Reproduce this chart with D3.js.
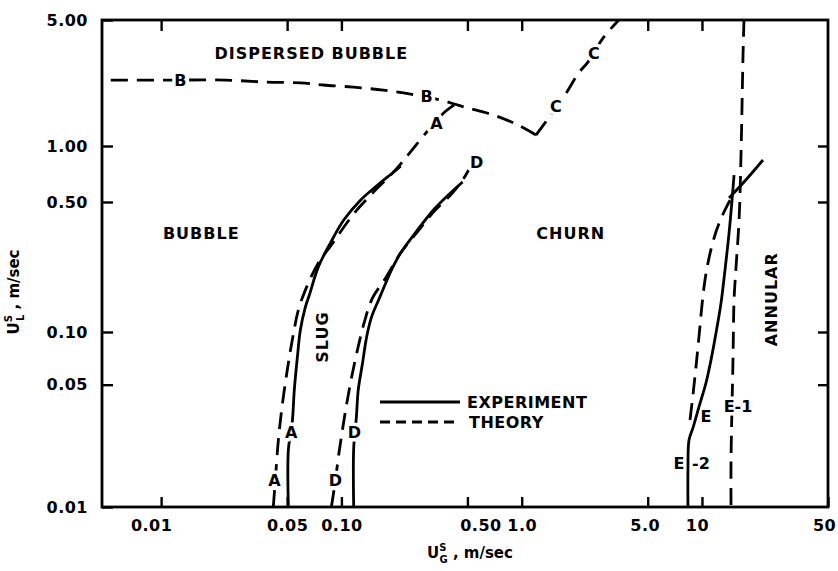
<!DOCTYPE html>
<meta charset="utf-8">
<style>
body { margin: 0; background: #fff; }
svg { font-family: "DejaVu Sans", sans-serif; font-weight: bold; }
.frame { fill: none; stroke: #000; stroke-width: 2.8px; }
.axis line { stroke: #000; stroke-width: 2.4px; }
.axis text { font-family: "DejaVu Sans", sans-serif; font-weight: bold; font-size: 16px; letter-spacing: 0.5px; fill: #000; }
.exp { fill: none; stroke: #000; stroke-width: 2.8px; }
.theory { fill: none; stroke: #000; stroke-width: 2.8px; stroke-dasharray: 17,9; }
.lbl { font-size: 16px; text-anchor: middle; dominant-baseline: central; }
.halo { stroke: #fff; stroke-width: 7px; paint-order: stroke; stroke-linejoin: round; }
.region { font-size: 16px; letter-spacing: 1px; text-anchor: middle; dominant-baseline: central; }
.axlabel { font-size: 15px; }
.legend { font-size: 16px; letter-spacing: 0.5px; dominant-baseline: central; }
</style>
<body>
<script src="https://d3js.org/d3.v7.min.js"></script>
<script>

var width = 838, height = 571;

// tick values and labels
var xTicks = [0.01, 0.05, 0.1, 0.5, 1, 5, 10, 50];
var xTickLabels = ["0.01", "0.05", "0.10", "0.50", "1.0", "5.0", "10", "50"];
var yTicks = [0.01, 0.05, 0.1, 0.5, 1, 5];
var yTickLabels = ["0.01", "0.05", "0.10", "0.50", "1.00", "5.00"];

// transition boundaries, U_G^S (m/sec) and U_L^S (m/sec)
var bTheoryG = [0.0047, 0.0112, 0.0227, 0.0388, 0.0592, 0.0794, 0.117, 0.171, 0.242, 0.355, 0.476, 0.69, 0.95, 1.2];
var bTheoryL = [2.32, 2.32, 2.32, 2.26, 2.24, 2.18, 2.12, 2.04, 1.94, 1.80, 1.65, 1.49, 1.31, 1.15];

var cTheoryG = [1.2, 1.36, 1.71, 2.07, 2.33, 2.85, 3.46];
var cTheoryL = [1.15, 1.36, 1.87, 2.54, 2.92, 4.02, 5.0];

var aExpG = [0.0508, 0.0508, 0.0534, 0.0548, 0.057, 0.0592, 0.0631, 0.0664, 0.0745, 0.0869, 0.103, 0.128, 0.159, 0.195, 0.213];
var aExpL = [0.01, 0.0212, 0.0306, 0.0467, 0.072, 0.1025, 0.136, 0.158, 0.224, 0.301, 0.40, 0.513, 0.617, 0.725, 0.78];

var aTheoryG = [0.0419, 0.043, 0.0447, 0.047, 0.0501, 0.0534, 0.0577, 0.0631, 0.0745, 0.088, 0.118, 0.1545, 0.1995, 0.2417, 0.304, 0.369, 0.43];
var aTheoryL = [0.01, 0.01426, 0.0241, 0.0383, 0.0607, 0.090, 0.131, 0.168, 0.235, 0.294, 0.436, 0.58, 0.743, 0.929, 1.227, 1.524, 1.71];

var dExpG = [0.117, 0.117, 0.121, 0.124, 0.131, 0.138, 0.147, 0.161, 0.176, 0.192, 0.213, 0.264, 0.324, 0.403, 0.47];
var dExpL = [0.01, 0.0217, 0.0323, 0.0467, 0.0665, 0.0936, 0.1205, 0.149, 0.183, 0.221, 0.266, 0.353, 0.453, 0.559, 0.64];

var dTheoryG = [0.088, 0.0927, 0.0962, 0.1013, 0.1067, 0.1137, 0.1227, 0.134, 0.1486, 0.176, 0.213, 0.264, 0.324, 0.403, 0.47, 0.508];
var dTheoryL = [0.01, 0.01426, 0.0193, 0.0275, 0.0383, 0.0546, 0.0789, 0.113, 0.152, 0.195, 0.266, 0.345, 0.442, 0.545, 0.656, 0.743];

var eExpG = [8.36, 8.36, 8.47, 8.91, 9.62, 10.52, 11.22, 11.96, 12.75, 13.42, 14.13, 14.68, 15.06];
var eExpL = [0.01, 0.0163, 0.0241, 0.0283, 0.0373, 0.0511, 0.0692, 0.0987, 0.143, 0.216, 0.34, 0.513, 0.698];

var eTheoryG = [8.58, 8.91, 9.26, 9.62, 10.0, 10.39, 10.94, 11.66, 12.59, 13.77, 15.06];
var eTheoryL = [0.0314, 0.0436, 0.0631, 0.0936, 0.1397, 0.1905, 0.250, 0.320, 0.395, 0.476, 0.559];

var annExpG = [14.13, 17.5, 21.8];
var annExpL = [0.525, 0.656, 0.841];

var e1TheoryG = [17.1, 16.9, 16.47, 16.06, 15.45, 15.06, 14.86, 14.49, 14.49];
var e1TheoryL = [5.0, 3.28, 0.917, 0.40, 0.224, 0.1486, 0.0692, 0.0186, 0.01];

// letters written on the curves
var curveLabels = ["B", "B", "A", "A", "A", "D", "D", "D", "C", "C", "E-1"];
var curveLabelG = [0.0128, 0.297, 0.337, 0.0527, 0.0425, 0.118, 0.0927, 0.562, 1.545, 2.51, 15.85];
var curveLabelL = [2.32, 1.87, 1.34, 0.0265, 0.01426, 0.0265, 0.01426, 0.82, 1.65, 3.28, 0.0373];
var plainLabels = ["E", "E", "-2"];
var plainLabelG = [10.52, 7.45, 9.87];
var plainLabelL = [0.0327, 0.0178, 0.0178];

var regionNames = ["DISPERSED BUBBLE", "BUBBLE", "CHURN", "SLUG", "ANNULAR"];
var regionG = [0.0681, 0.0167, 1.87, 0.0784, 24.2];
var regionL = [3.28, 0.34, 0.34, 0.0936, 0.150];
var regionRotate = [0, 0, 0, -90, -90];

var x = d3.scaleLog().domain([0.0047, 50]).range([102, 828]);
// the hand drawn decades are not quite equal, so the y scale is piecewise
var y = d3.scaleLog().domain([0.01, 0.1, 1, 5]).range([507, 332, 146, 20]);

var svg = d3.select("body").append("svg")
    .attr("width", width)
    .attr("height", height);

var line = d3.line()
    .x(function(d) { return x(d[0]); })
    .y(function(d) { return y(d[1]); })
    .curve(d3.curveCatmullRom.alpha(0.5));

function curve(pts, cls) {
  svg.append("path")
      .datum(pts)
      .attr("class", cls)
      .attr("d", line);
}

// B is drawn from the B/C corner outwards so both dash patterns start at the corner
curve(d3.zip(bTheoryG, bTheoryL).reverse(), "theory");
curve(d3.zip(cTheoryG, cTheoryL), "theory");
curve(d3.zip(aTheoryG, aTheoryL), "theory");
curve(d3.zip(aExpG, aExpL), "exp");
curve(d3.zip(dTheoryG, dTheoryL), "theory");
curve(d3.zip(dExpG, dExpL), "exp");
curve(d3.zip(eTheoryG, eTheoryL), "theory");
curve(d3.zip(eExpG, eExpL), "exp");
curve(d3.zip(annExpG, annExpL), "exp");
curve(d3.zip(e1TheoryG, e1TheoryL), "theory");

// frame and inward ticks
svg.append("rect")
    .attr("class", "frame")
    .attr("x", x.range()[0])
    .attr("y", y(5))
    .attr("width", x.range()[1] - x.range()[0])
    .attr("height", y(0.01) - y(5));

var xShift = [-10, 0, 0, 13, 0, -3, -5, -4];

svg.append("g")
    .attr("class", "axis")
    .attr("transform", "translate(0," + y(0.01) + ")")
    .call(d3.axisBottom(x).tickValues(xTicks).tickSize(-10).tickPadding(13)
      .tickFormat(function(d, i) { return xTickLabels[i]; }))
    .call(function(g) { g.select(".domain").remove(); })
    .selectAll("text").attr("dx", function(d, i) { return xShift[i]; });

svg.append("g")
    .attr("class", "axis")
    .attr("transform", "translate(0," + y(5) + ")")
    .call(d3.axisTop(x).tickValues(xTicks.slice(0, 7)).tickSize(-11).tickFormat(""))
    .call(function(g) { g.select(".domain").remove(); });

svg.append("g")
    .attr("class", "axis")
    .attr("transform", "translate(" + x.range()[0] + ",0)")
    .call(d3.axisLeft(y).tickValues(yTicks).tickSize(-11).tickPadding(14)
      .tickFormat(function(d, i) { return yTickLabels[i]; }))
    .call(function(g) { g.select(".domain").remove(); });

svg.append("g")
    .attr("class", "axis")
    .attr("transform", "translate(" + x.range()[1] + ",0)")
    .call(d3.axisRight(y).tickValues([0.05, 0.1, 0.5, 1]).tickSize(-10).tickFormat(""))
    .call(function(g) { g.select(".domain").remove(); });

// labels
svg.selectAll(".halo")
    .data(curveLabels)
  .enter().append("text")
    .attr("class", "lbl halo")
    .attr("x", function(d, i) { return x(curveLabelG[i]); })
    .attr("y", function(d, i) { return y(curveLabelL[i]); })
    .text(function(d) { return d; });

svg.selectAll(".plain")
    .data(plainLabels)
  .enter().append("text")
    .attr("class", "lbl plain")
    .attr("x", function(d, i) { return x(plainLabelG[i]); })
    .attr("y", function(d, i) { return y(plainLabelL[i]); })
    .text(function(d) { return d; });

svg.selectAll(".region")
    .data(regionNames)
  .enter().append("text")
    .attr("class", "region")
    .attr("transform", function(d, i) {
      return "translate(" + x(regionG[i]) + "," + y(regionL[i]) + ") rotate(" + regionRotate[i] + ")";
    })
    .text(function(d) { return d; });

// legend
var legend = svg.append("g").attr("transform", "translate(380,402)");
legend.append("line").attr("class", "exp").attr("x1", 0).attr("x2", 80).attr("y1", 0).attr("y2", 0);
legend.append("line").attr("class", "theory").attr("x1", 0).attr("x2", 78).attr("y1", 20).attr("y2", 20)
    .style("stroke-dasharray", "10,6");
legend.append("text").attr("class", "legend").attr("x", 87).attr("y", 0).text("EXPERIMENT");
legend.append("text").attr("class", "legend").attr("x", 89).attr("y", 20).text("THEORY");

// axis titles
var xl = svg.append("text").attr("class", "axlabel").attr("x", 470).attr("y", 558).attr("text-anchor", "middle");
xl.append("tspan").text("U");
xl.append("tspan").attr("dy", -7).style("font-size", "10px").text("S");
xl.append("tspan").attr("dx", -7).attr("dy", 12).style("font-size", "10px").text("G");
xl.append("tspan").attr("dy", -5).text(" , m/sec");

var yl = svg.append("text").attr("class", "axlabel").attr("text-anchor", "middle")
    .attr("transform", "translate(19,292) rotate(-90)");
yl.append("tspan").text("U");
yl.append("tspan").attr("dy", -7).style("font-size", "10px").text("S");
yl.append("tspan").attr("dx", -6).attr("dy", 12).style("font-size", "10px").text("L");
yl.append("tspan").attr("dy", -5).text(" , m/sec");

</script>
